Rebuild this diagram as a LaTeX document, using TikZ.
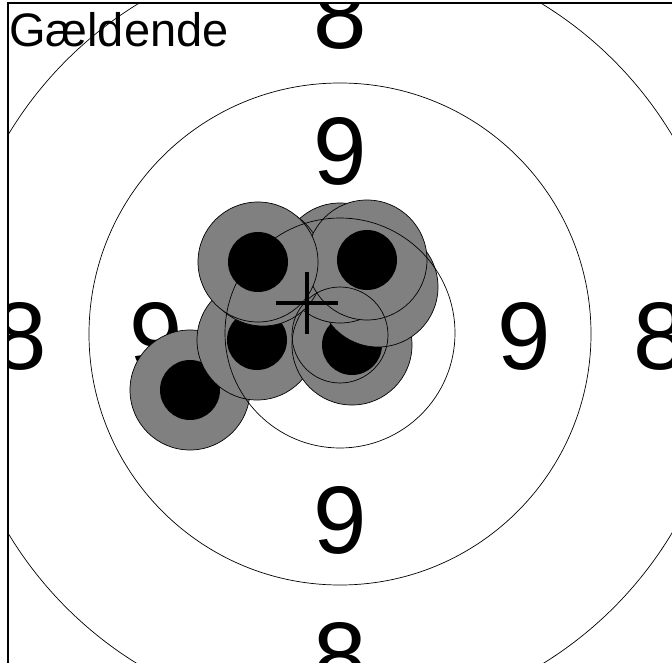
\documentclass[tikz,border=0pt]{standalone}
\usepackage{fontspec}
\setmainfont{Liberation Sans}

\begin{document}
\begin{tikzpicture}[x=1pt, y=-1pt,
  ring/.style={draw, circle, inner sep=0pt, line width=0.7pt},
  hole/.style={draw, circle, fill=gray, inner sep=0pt, minimum size=120pt, line width=0.7pt},
  core/.style={circle, fill=black, inner sep=0pt, minimum size=60pt},
  score/.style={inner sep=0pt, anchor=base, font=\fontsize{96}{96}\selectfont}]
\useasboundingbox (0,0) rectangle (672,663);
\begin{scope}
\clip (8,3) rectangle (690,690);
% rings
\node[ring, minimum size=774pt] (ring8) at (340,334) {};
\node[ring, minimum size=502pt] (ring9) at (340,334) {};
% scores
\node[score] (n9t) at (340,185) {9};
\node[score] (n9b) at (340,553) {9};
\node[score] (n9l) at (156,369) {9};
\node[score] (n9r) at (524,369) {9};
\node[score] (n8t) at (340,49) {8};
\node[score] (n8b) at (340,689) {8};
\node[score] (n8l) at (20,369) {8};
\node[score] (n8r) at (660,369) {8};
\node[inner sep=0pt, anchor=base west, font=\fontsize{47}{47}\selectfont] (title) at (9,47) {Gældende};
% shots
\node[hole] (h1) at (190,390) {}; \node[core] (c1) at (h1) {};
\node[hole] (h2) at (257,340) {}; \node[core] (c2) at (h2) {};
\node[hole] (h3) at (352,345) {}; \node[core] (c3) at (h3) {};
\node[hole] (h4) at (378,287) {}; \node[core] (c4) at (h4) {};
\node[hole] (h5) at (340,263) {}; \node[core] (c5) at (h5) {};
\node[hole] (h6) at (263,266) {}; \node[core] (c6) at (h6) {};
\node[hole] (h7) at (367,260) {}; \node[core] (c7) at (h7) {};
\node[hole] (h8) at (258,262) {}; \node[core] (c8) at (h8) {};
\node[ring, minimum size=96pt] (group) at (340,335) {};
\node[ring, minimum size=230pt] (ring10) at (340,333) {};
% aim mark
\coordinate (aim) at (307,303);
\draw[line width=3.2pt] (aim) ++(-31,0) -- ++(62,0);
\draw[line width=3.2pt] (aim) ++(0,-31) -- ++(0,62);
\end{scope}
% frame
\draw[line width=1.8pt] (8,680) -- (8,3) -- (680,3);
\end{tikzpicture}
\end{document}
